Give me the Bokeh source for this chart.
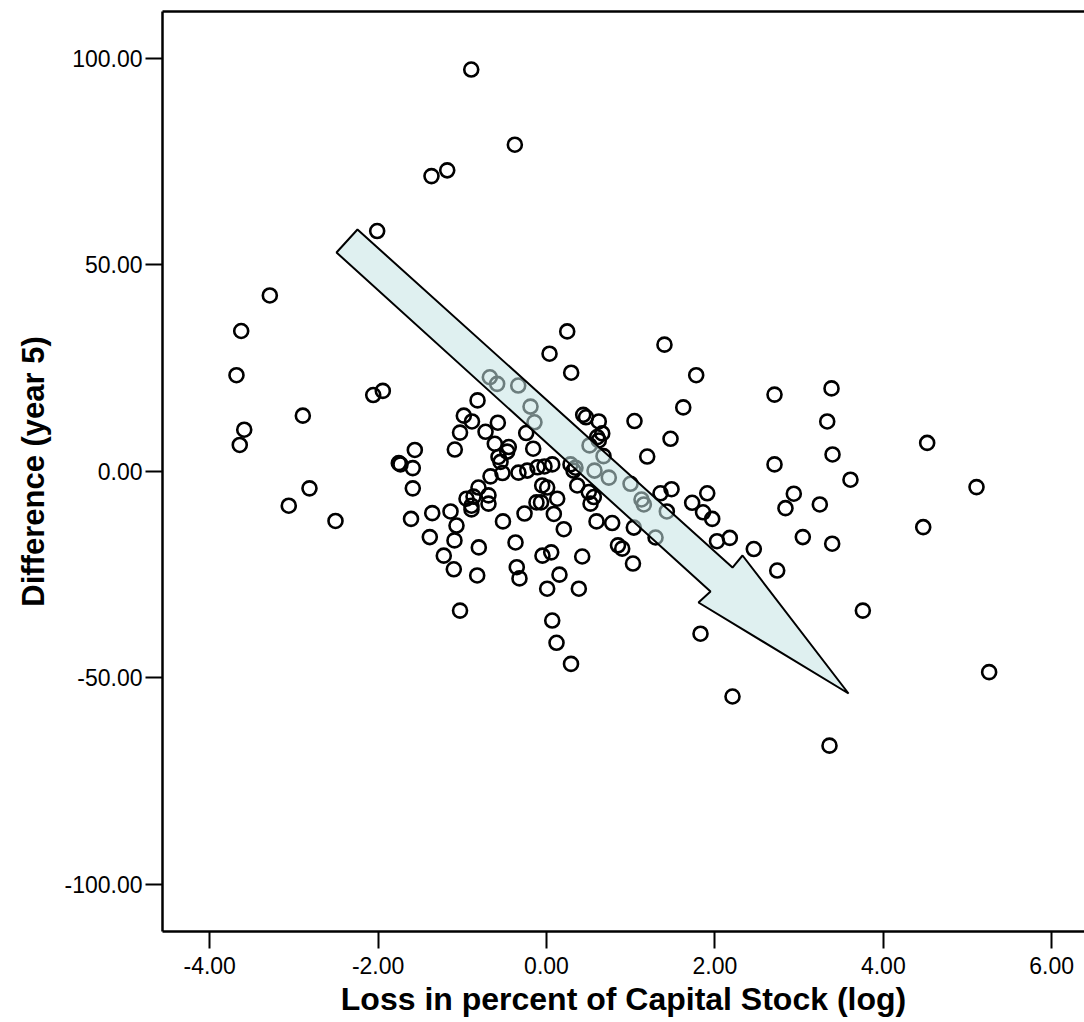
from bokeh.plotting import figure
from bokeh.models import (ColumnDataSource, FixedTicker, NumeralTickFormatter,
                          LinearAxis, Range1d)
from bokeh.embed import file_html
from bokeh.resources import INLINE

# Loss in percent of Capital Stock (log)
loss_log = [
    -0.894, -0.376, -1.366, -1.179, -2.011, -3.286, -3.626, -3.682, -2.058, -1.944,
    -2.894, -3.590, -3.643, -2.815, -3.061, -2.506, -0.819, -0.982, -0.885, -1.027,
    -1.089, -1.564, -1.754, -1.734, -1.588, -1.588, -1.609, -1.357, -1.140, -1.069,
    -1.386, -1.093, -1.220, -1.101, -0.823, -0.804, -1.027, -0.950, -0.867, -0.891,
    -0.891, -0.808, -0.689, -0.689, -0.673, -0.586, -0.336, -0.190, -0.143, -0.578,
    -0.724, -0.241, -0.614, -0.448, -0.467, -0.570, -0.546, -0.158, -0.665, -0.523,
    -0.333, -0.229, -0.107, -0.024, 0.068, 0.036, 0.246, 0.293, 1.401, 1.778,
    1.624, 1.045, 1.473, 1.196, 0.436, 0.469, 0.621, 0.662, 0.602, 0.621,
    0.511, 0.677, 0.285, 0.344, 0.321, 0.570, 0.740, 0.365, 0.502, 0.562,
    0.523, 0.998, 1.128, 1.156, 1.354, 1.485, 1.429, 1.730, 1.909, 1.859,
    1.968, 2.025, 2.177, 2.462, 1.295, 1.037, 0.780, 0.594, 0.849, 0.899,
    1.027, 0.424, 0.205, 0.087, 0.127, 0.008, -0.051, 0.056, -0.048, 0.154,
    -0.119, -0.065, -0.261, -0.517, -0.368, -0.353, -0.321, 0.008, 0.384, 0.068,
    0.119, 0.291, 1.829, 2.209, 3.361, 3.757, 5.257, 2.740, 2.708, 3.385,
    3.334, 3.397, 4.521, 2.708, 3.610, 2.937, 2.838, 3.246, 5.107, 4.474,
    3.044, 3.393,
]

# Difference (year 5)
difference_y5 = [
    97.2, 79.0, 71.4, 72.8, 58.1, 42.5, 33.9, 23.2, 18.4, 19.4,
    13.4, 10.0, 6.3, -4.2, -8.4, -12.1, 17.1, 13.4, 12.0, 9.3,
    5.2, 5.1, 1.9, 1.6, 0.7, -4.2, -11.6, -10.2, -9.8, -13.2,
    -16.0, -16.8, -20.5, -23.8, -25.3, -18.5, -33.8, -6.7, -6.2, -8.4,
    -9.3, -4.0, -5.9, -7.9, 22.7, 21.1, 20.7, 15.6, 11.8, 11.7,
    9.5, 9.2, 6.6, 5.8, 4.7, 3.4, 2.2, 5.4, -1.3, -0.5,
    -0.4, 0.1, 0.9, 1.1, 1.6, 28.4, 33.8, 23.8, 30.6, 23.2,
    15.4, 12.1, 7.8, 3.5, 13.6, 13.0, 12.0, 9.1, 8.2, 7.4,
    6.2, 3.6, 1.6, 0.8, 0.1, 0.1, -1.6, -3.5, -5.1, -6.3,
    -7.9, -3.1, -6.9, -8.1, -5.4, -4.4, -9.8, -7.7, -5.4, -10.0,
    -11.6, -17.0, -16.2, -18.9, -16.1, -13.7, -12.6, -12.2, -18.0, -18.8,
    -22.4, -20.7, -14.1, -10.4, -6.7, -4.0, -3.5, -19.7, -20.5, -25.1,
    -7.6, -7.6, -10.3, -12.2, -17.3, -23.3, -26.0, -28.5, -28.5, -36.2,
    -41.6, -46.7, -39.4, -54.6, -66.5, -33.8, -48.7, -24.1, 18.5, 20.0,
    12.0, 4.0, 6.8, 1.6, -2.1, -5.5, -9.0, -8.1, -3.9, -13.6,
    -16.0, -17.6,
]

x_ticks = [-4, -2, 0, 2, 4, 6]
y_ticks = [-100, -50, 0, 50, 100]

# block-arrow annotation (data coordinates)
arrow_x = [-2.245, 2.209, 2.328, 3.587, 1.805, 1.948, -2.494]
arrow_y = [58.47, -23.37, -20.46, -53.87, -31.84, -29.18, 52.91]

FONT = "Liberation Sans"

p = figure(width=1084, height=1022, output_backend="svg", toolbar_location=None,
           x_range=Range1d(-4.5606, 6.3895), y_range=Range1d(-111.50, 111.26),
           min_border_left=162, min_border_right=0, min_border_top=11,
           min_border_bottom=91, x_axis_label="Loss in percent of Capital Stock (log)",
           y_axis_label="Difference (year 5)")
p.outline_line_color = None
p.xgrid.visible = False
p.ygrid.visible = False
p.background_fill_color = "white"
p.border_fill_color = "white"

src = ColumnDataSource(dict(x=loss_log, y=difference_y5))
p.scatter("x", "y", source=src, size=14, marker="circle", fill_color=None,
          line_color="black", line_width=2.6)

p.patch(arrow_x, arrow_y, fill_color="#c4e3e3", fill_alpha=0.55,
        line_color="black", line_width=2)

for ax, ticks in ((p.xaxis[0], x_ticks), (p.yaxis[0], y_ticks)):
    ax.ticker = FixedTicker(ticks=ticks)
    ax.formatter = NumeralTickFormatter(format="0.00")
    ax.axis_line_width = 2.5
    ax.axis_line_color = "black"
    ax.major_tick_line_width = 2
    ax.major_tick_line_color = "black"
    ax.major_tick_out = 17
    ax.major_tick_in = 0
    ax.minor_tick_line_color = None
    ax.major_label_text_font = FONT
    ax.major_label_text_font_size = "23px"
    ax.major_label_text_color = "black"
    ax.axis_label_text_font = FONT
    ax.axis_label_text_font_style = "bold"
    ax.axis_label_text_color = "black"

p.xaxis[0].axis_label_text_font_size = "32px"
p.yaxis[0].axis_label_text_font_size = "31px"
p.xaxis[0].major_label_standoff = 8
p.xaxis[0].axis_label_standoff = 4
p.yaxis[0].major_label_standoff = 3
p.yaxis[0].axis_label_standoff = 10

top = LinearAxis(ticker=FixedTicker(ticks=[]), axis_line_width=2.5,
                 axis_line_color="black", major_tick_out=0, major_tick_in=0,
                 minor_tick_out=0, minor_tick_in=0, major_label_standoff=0,
                 major_label_text_font_size="0px")
p.add_layout(top, "above")

open("out.html", "w").write(file_html(p, INLINE))
